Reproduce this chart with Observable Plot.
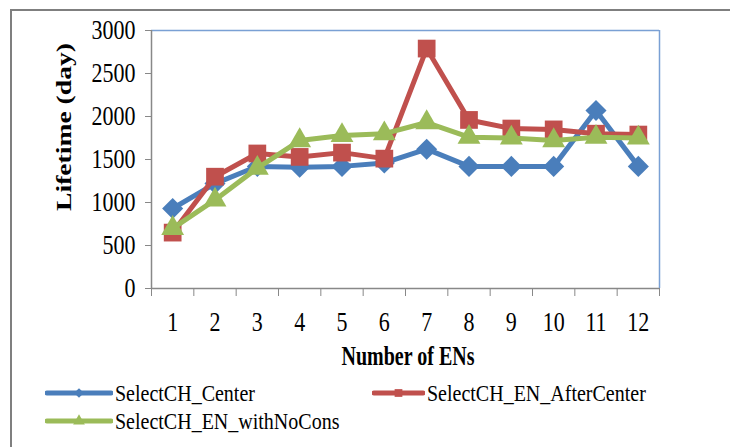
<!DOCTYPE html>
<html>
<head>
<meta charset="utf-8">
<script src="https://cdn.jsdelivr.net/npm/d3@7"></script>
<script src="https://cdn.jsdelivr.net/npm/@observablehq/plot@0.6"></script>
<style>
  body { margin: 0; background: #fff; }
  #wrap { position: relative; width: 730px; height: 447px; overflow: hidden; background: #fff; font-family: "Liberation Serif", "Times New Roman", serif; }
  #chart { position: absolute; left: 0; top: 0; }
  .border-top { position: absolute; left: 11px; top: 9px; width: 730px; height: 2px; background: #7f7f7f; }
  .border-left { position: absolute; left: 10px; top: 9px; width: 2px; height: 440px; background: #7f7f7f; }
  .title { position: absolute; font-family: "Liberation Serif", "Times New Roman", serif; font-weight: bold; font-size: 20px; line-height: 20px; color: #000; white-space: nowrap; }
  .leg { position: absolute; font-family: "Liberation Serif", "Times New Roman", serif; font-size: 20px; line-height: 20px; color: #000; white-space: nowrap; display: flex; align-items: center; }
  .leg svg { display: block; margin-right: 2px; }
  .leg span { display: inline-block; transform: scaleY(1.2); }
</style>
</head>
<body>
<div id="wrap">
  <div class="border-top"></div>
  <div class="border-left"></div>
  <div id="chart"></div>
</div>
<script>
const categories = [1, 2, 3, 4, 5, 6, 7, 8, 9, 10, 11, 12];
const seriesNames = ["SelectCH_Center", "SelectCH_EN_AfterCenter", "SelectCH_EN_withNoCons"];
const centerValues   = [930, 1220, 1420, 1410, 1420, 1460, 1620, 1420, 1420, 1420, 2070, 1420];
const afterValues    = [650, 1300, 1570, 1530, 1580, 1510, 2790, 1960, 1860, 1850, 1800, 1790];
const noConsValues   = [700, 1030, 1400, 1720, 1780, 1800, 1930, 1760, 1750, 1720, 1760, 1750];
const yTicks = [0, 500, 1000, 1500, 2000, 2500, 3000];
const colors = ["#4a7ebb", "#c0504d", "#9bbb59"];
const symbols = ["diamond2", "square", "triangle"];
const radii = [9.5, 10, 8.5];

const allValues = [centerValues, afterValues, noConsValues];
const series = allValues.map((vals, i) => categories.map((c, j) => ({ n: c, v: vals[j], s: seriesNames[i] })));
const boundaries = [...categories.map(c => c - 0.5), categories[categories.length - 1] + 0.5];

const marks = [
  Plot.ruleY([3000], { stroke: "#7aa0d4", strokeWidth: 1.5 }),
  Plot.ruleX([12.5], { stroke: "#7aa0d4", strokeWidth: 1.5 }),
  Plot.ruleX([0.5], { stroke: "#888", strokeWidth: 1.5 }),
  Plot.ruleY([0], { stroke: "#888", strokeWidth: 1.5 }),
  Plot.axisY({ ticks: yTicks, tickSize: 6, tickPadding: 10, stroke: "#888", fill: "#000", label: null, tickFormat: d => String(d) }),
  Plot.axisX({ ticks: boundaries, tickSize: 8, stroke: "#888", tickFormat: () => "", label: null }),
  Plot.axisX({ ticks: categories, tickSize: 0, tickPadding: 23, fill: "#000", label: null, tickFormat: d => String(d) })
];
series.forEach((data, i) => {
  marks.push(Plot.line(data, { x: "n", y: "v", stroke: colors[i], strokeWidth: 5, strokeLinejoin: "round" }));
  marks.push(Plot.dot(data, { x: "n", y: "v", symbol: () => symbols[i], r: radii[i], fill: colors[i], stroke: "none" }));
});

const chart = Plot.plot({
  width: 730,
  height: 370,
  marginLeft: 151,
  marginRight: 71,
  marginTop: 30,
  marginBottom: 82,
  style: { fontFamily: "'Liberation Serif', 'Times New Roman', serif", fontSize: "22px", color: "#000", background: "transparent", overflow: "visible" },
  x: { type: "linear", domain: [0.5, 12.5], axis: null },
  y: { domain: [0, 3000], axis: null },
  symbol: { type: "identity" },
  marks
});
document.getElementById("chart").appendChild(chart);

// stretch tick labels vertically like the reference rendering
d3.select(chart).selectAll("text").each(function () {
  const k = 1.22;
  const t = this.getAttribute("transform");
  if (t && /translate/.test(t)) {
    this.setAttribute("transform", t + ` scale(1,${k})`);
  } else {
    const y = +(this.getAttribute("y") || 0);
    this.setAttribute("transform", `translate(0,${y}) scale(1,${k}) translate(0,${-y})` + (t ? " " + t : ""));
  }
});

const wrap = document.getElementById("wrap");
function addDiv(cls, text, css) {
  const d = document.createElement("div");
  d.className = cls;
  d.textContent = text;
  Object.assign(d.style, css);
  wrap.appendChild(d);
  return d;
}
addDiv("title", "Number of ENs", { left: "408px", top: "356px", transform: "translate(-50%, -50%) scaleY(1.35)" });
addDiv("title", "Lifetime (day)", { left: "64px", top: "127px", transform: "translate(-50%, -50%) rotate(-90deg) scaleX(1.38)" });

const legendPos = [[45, 393, 68], [372, 393, 53], [45, 421, 68]];
seriesNames.forEach((name, i) => {
  const [x, y, w] = legendPos[i];
  const d = document.createElement("div");
  d.className = "leg";
  Object.assign(d.style, { left: x + "px", top: (y - 13) + "px", height: "26px" });
  const svg = d3.create("svg").attr("width", w).attr("height", 20);
  svg.append("line").attr("x1", 2).attr("x2", w - 2).attr("y1", 10).attr("y2", 10)
    .attr("stroke", colors[i]).attr("stroke-width", 5).attr("stroke-linecap", "round");
  const sym = [d3.symbolDiamond2, d3.symbolSquare, d3.symbolTriangle][i];
  svg.append("path").attr("d", d3.symbol(sym, 60)()).attr("transform", `translate(${w / 2},10)`).attr("fill", colors[i]);
  d.appendChild(svg.node());
  const t = document.createElement("span");
  t.textContent = name;
  d.appendChild(t);
  wrap.appendChild(d);
});
</script>
</body>
</html>
